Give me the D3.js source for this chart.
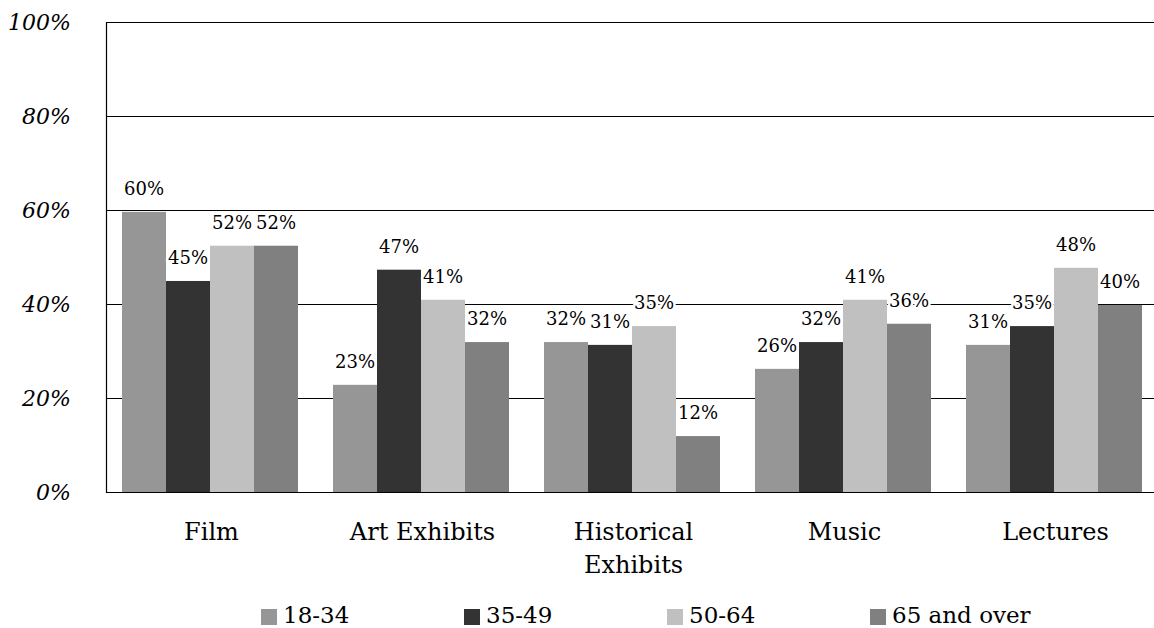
<!DOCTYPE html>
<html>
<head>
<meta charset="utf-8">
<script src="https://cdn.jsdelivr.net/npm/d3@7"></script>
<style>
  html, body { margin: 0; padding: 0; background: #fff; }
  svg { display: block; }
</style>
</head>
<body>
<svg id="chart" width="1154" height="628"></svg>
<script>
// ---- data ----
const categories = ["Film", "Art Exhibits", "Historical Exhibits", "Music", "Lectures"];
const categoryLines = [["Film"], ["Art Exhibits"], ["Historical", "Exhibits"], ["Music"], ["Lectures"]];
const seriesNames = ["18-34", "35-49", "50-64", "65 and over"];
const seriesColors = ["#969696", "#333333", "#c0c0c0", "#808080"];
const values_18_34 = [59.6, 22.8, 31.9, 26.2, 31.3];
const values_35_49 = [44.9, 47.3, 31.3, 31.9, 35.3];
const values_50_64 = [52.4, 40.9, 35.3, 40.9, 47.7];
const values_65_over = [52.4, 31.9, 11.9, 35.8, 39.8];
const yTicks = [0, 20, 40, 60, 80, 100];

const seriesValues = [values_18_34, values_35_49, values_50_64, values_65_over];
const rows = categories.map((c, i) => ({
  cat: c,
  vals: seriesNames.map((s, j) => ({ series: s, idx: j, value: seriesValues[j][i] }))
}));

const FONT = "'DejaVu Serif', serif";

// ---- layout ----
const svg = d3.select("#chart");
const W = 1154;
const plotLeft = 106, plotTop = 22, plotBottom = 492;
const bandW = 211;

const x0 = d3.scaleBand().domain(categories).range([plotLeft, plotLeft + bandW * categories.length]).padding(0);
const x1 = d3.scaleBand().domain(seriesNames).range([16, 16 + 176]).padding(0);
const y = d3.scaleLinear().domain([0, 100]).range([plotBottom, plotTop]);
const color = d3.scaleOrdinal().domain(seriesNames).range(seriesColors);

// gridlines
svg.append("g").selectAll("line").data(yTicks.filter(t => t > 0)).join("line")
  .attr("x1", plotLeft).attr("x2", W)
  .attr("y1", d => Math.round(y(d)) + 0.5).attr("y2", d => Math.round(y(d)) + 0.5)
  .attr("stroke", "#000").attr("stroke-width", 1.2);

// y axis tick labels
svg.append("g").selectAll("text").data(yTicks).join("text")
  .attr("x", 71).attr("y", d => y(d)).attr("dy", "0.36em")
  .attr("text-anchor", "end")
  .attr("font-family", FONT)
  .attr("font-style", "italic").attr("font-size", 22)
  .text(d => d + "%");

// bars
const groups = svg.append("g").selectAll("g").data(rows).join("g")
  .attr("transform", d => `translate(${x0(d.cat)},0)`);

groups.selectAll("rect").data(d => d.vals).join("rect")
  .attr("x", d => x1(d.series))
  .attr("y", d => y(d.value))
  .attr("width", x1.bandwidth())
  .attr("height", d => y(0) - y(d.value))
  .attr("fill", d => color(d.series));

// data labels
groups.selectAll("text").data(d => d.vals).join("text")
  .attr("x", d => x1(d.series) + x1.bandwidth() / 2)
  .attr("y", d => y(d.value) - 17)
  .attr("text-anchor", "middle")
  .attr("font-family", FONT)
  .attr("font-size", 18)
  .attr("paint-order", "stroke")
  .attr("stroke", "#fff").attr("stroke-width", 5).attr("stroke-linejoin", "round")
  .attr("fill", "#000")
  .text(d => Math.round(d.value) + "%");

// axis lines
svg.append("line").attr("x1", plotLeft + 0.5).attr("x2", plotLeft + 0.5)
  .attr("y1", plotTop).attr("y2", plotBottom + 1)
  .attr("stroke", "#000").attr("stroke-width", 1.2);
svg.append("line").attr("x1", plotLeft).attr("x2", W)
  .attr("y1", plotBottom + 0.5).attr("y2", plotBottom + 0.5)
  .attr("stroke", "#000").attr("stroke-width", 1.2);

// category labels
const catG = svg.append("g").selectAll("text").data(categories).join("text")
  .attr("text-anchor", "middle")
  .attr("font-family", FONT)
  .attr("font-size", 24)
  .attr("x", d => x0(d) + x0.bandwidth() / 2)
  .attr("y", 540);
catG.each(function(d, i) {
  const t = d3.select(this);
  categoryLines[i].forEach((line, k) => {
    t.append("tspan").attr("x", x0(d) + x0.bandwidth() / 2).attr("dy", k === 0 ? 0 : 33).text(line);
  });
});

// legend
const legendX = d3.scalePoint().domain(seriesNames).range([261, 261 + 203 * 3]);
const leg = svg.append("g").selectAll("g").data(seriesNames).join("g")
  .attr("transform", d => `translate(${legendX(d)},0)`);
leg.append("rect").attr("x", 0).attr("y", 609).attr("width", 16).attr("height", 16)
  .attr("fill", d => color(d));
leg.append("text").attr("x", 22).attr("y", 622.5)
  .attr("font-family", FONT)
  .attr("font-size", 23).text(d => d);
</script>
</body>
</html>
